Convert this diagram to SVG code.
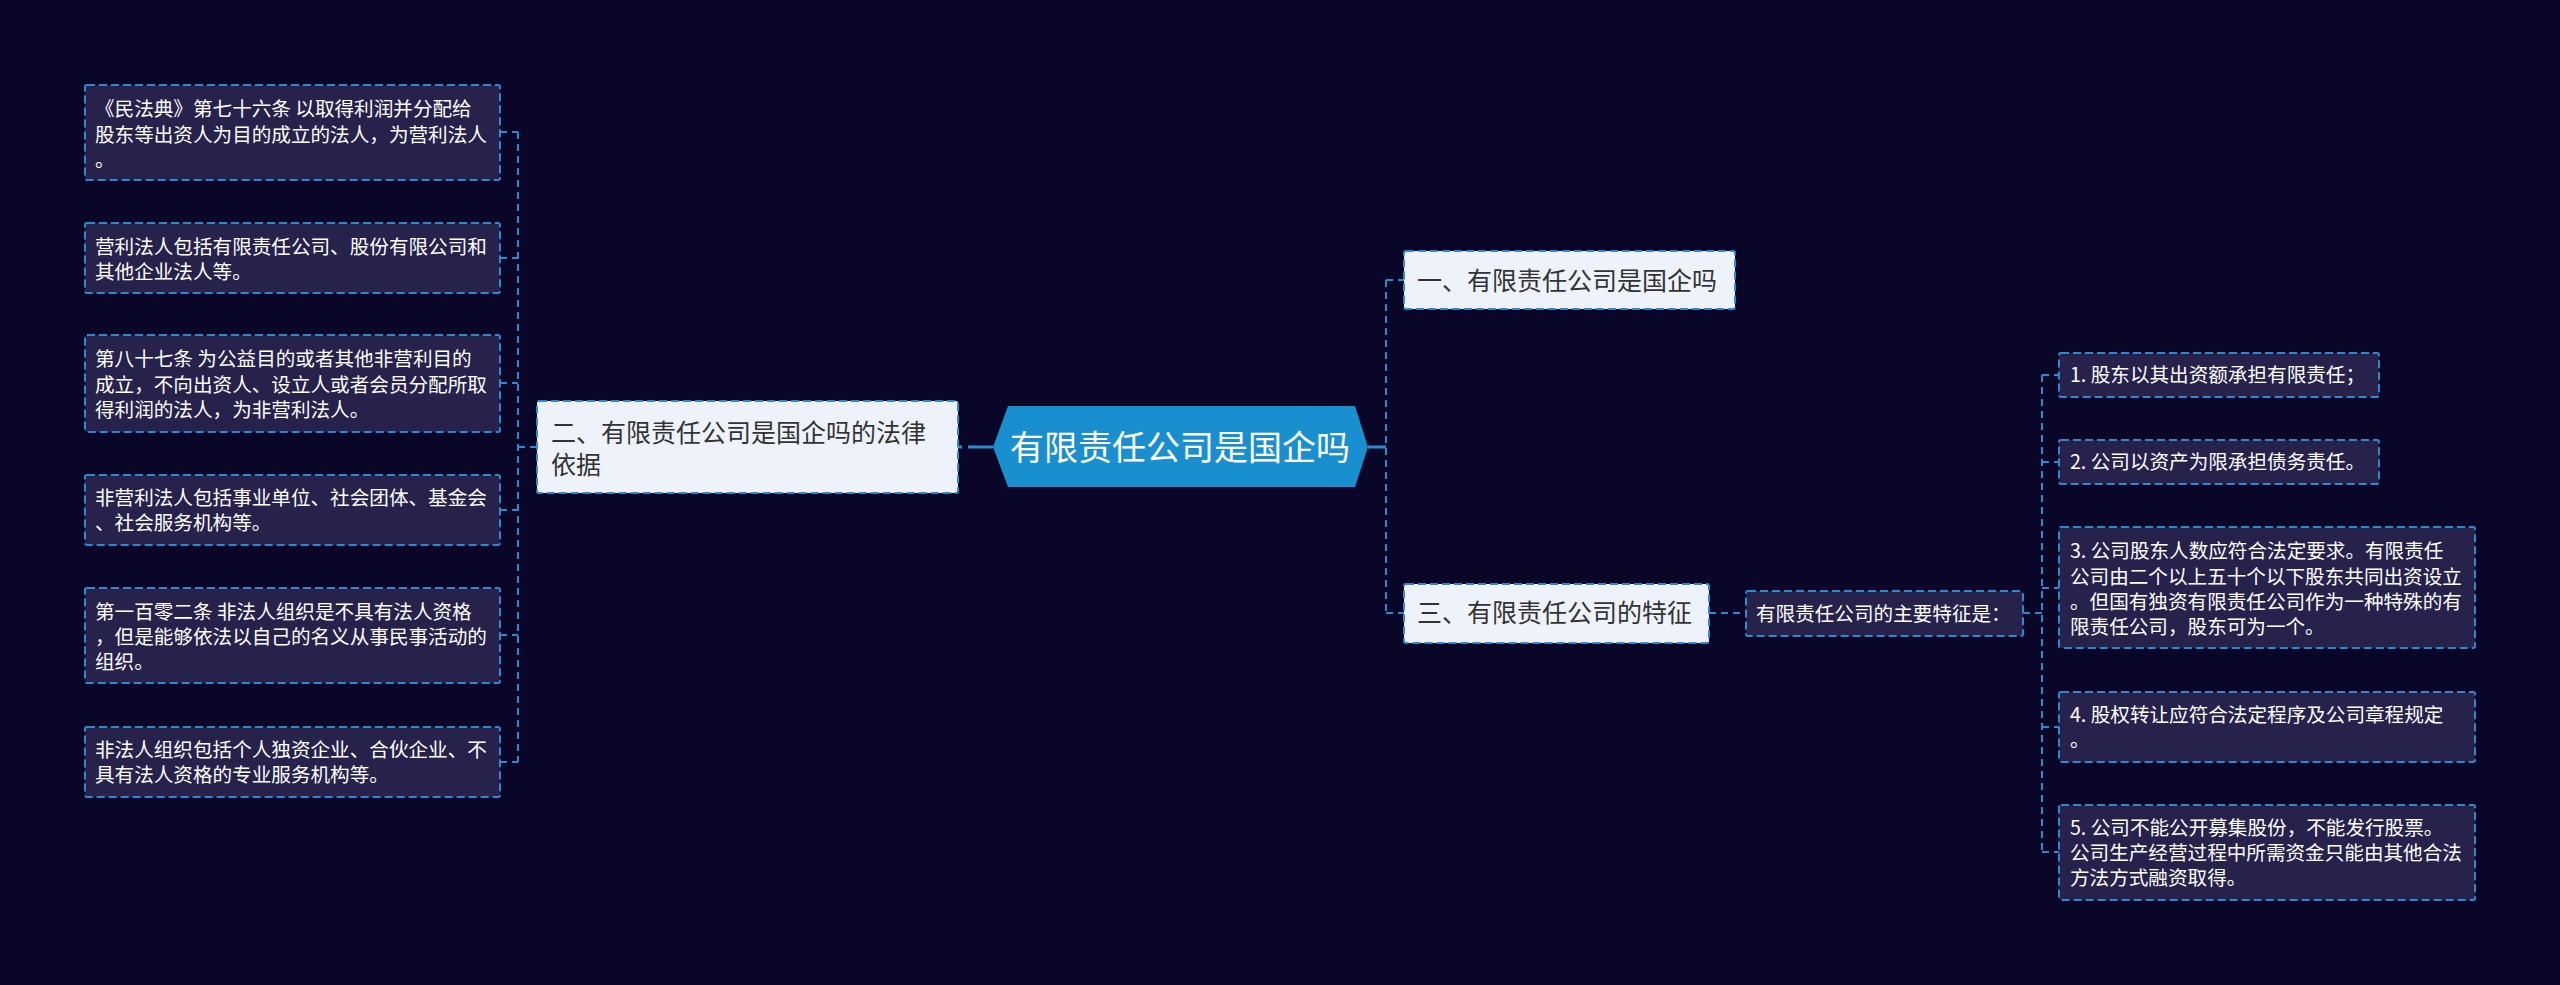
<svg xmlns="http://www.w3.org/2000/svg" width="2560" height="985" viewBox="0 0 2560 985">
<style>
.bg{fill:#0a0628}
.leaf{fill:#26224c;stroke:#2e8ad0;stroke-width:2;stroke-dasharray:8 4}
.main{fill:#eef3fb;stroke:#2e8ad0;stroke-width:2;stroke-dasharray:8 4}
.lt{font-family:"Noto Sans CJK SC","Noto Sans",sans-serif;font-size:19.6px;fill:#ffffff}
.mt{font-family:"Noto Sans CJK SC","Noto Sans",sans-serif;font-size:25px;fill:#333333}
.ct{font-family:"Noto Sans CJK SC","Noto Sans",sans-serif;font-size:34px;fill:#ffffff}
.con{fill:none;stroke:#2e8ad0;stroke-width:2;stroke-dasharray:7 5}
.sol{fill:none;stroke:#2e8ad0;stroke-width:3}
</style>
<rect class="bg" x="0" y="0" width="2560" height="985"/>
<g id="connectors">
  <path class="sol" d="M958 447 H962 M968 447 H993"/>
  <path class="sol" d="M1368 447 H1386"/>
  <path class="con" d="M1386 280 V613"/>
  <path class="con" d="M1386 280 H1404"/>
  <path class="con" d="M1386 613 H1404"/>
  <path class="con" d="M1709 613 H1746"/>
  <path class="con" d="M2023 613 H2042"/>
  <path class="con" d="M2042 375 V852"/>
  <path class="con" d="M2042 375 H2059"/>
  <path class="con" d="M2042 462 H2059"/>
  <path class="con" d="M2042 588 H2059"/>
  <path class="con" d="M2042 727 H2059"/>
  <path class="con" d="M2042 852 H2059"/>
  <path class="con" d="M537 447 H518"/>
  <path class="con" d="M518 132 V762"/>
  <path class="con" d="M500 132 H518"/>
  <path class="con" d="M500 258 H518"/>
  <path class="con" d="M500 383 H518"/>
  <path class="con" d="M500 510 H518"/>
  <path class="con" d="M500 635 H518"/>
  <path class="con" d="M500 762 H518"/>
</g>
<g id="center">
  <polygon points="993,447 1008,406 1355,406 1368,447 1355,487 1008,487" fill="#1a8fd0"/>
  <text class="ct" x="1180" y="460" text-anchor="middle">有限责任公司是国企吗</text>
</g>
<g id="n1">
  <rect class="main" x="1404" y="251" width="331" height="58" rx="2"/>
  <text class="mt" x="1417" y="290">一、有限责任公司是国企吗</text>
</g>
<g id="n2">
  <rect class="main" x="537" y="401" width="421" height="92" rx="2"/>
  <text class="mt" x="551" y="442">二、有限责任公司是国企吗的法律</text>
  <text class="mt" x="551" y="474">依据</text>
</g>
<g id="n3">
  <rect class="main" x="1404" y="584" width="305" height="59" rx="2"/>
  <text class="mt" x="1417" y="622">三、有限责任公司的特征</text>
</g>
<g id="n3a">
  <rect class="leaf" x="1746" y="591" width="277" height="45" rx="2"/>
  <text class="lt" x="1756" y="621">有限责任公司的主要特征是：</text>
</g>
<g id="l1">
  <rect class="leaf" x="85" y="85" width="415" height="95" rx="2"/>
  <text class="lt" x="95" y="116">《民法典》第七十六条 以取得利润并分配给</text>
  <text class="lt" x="95" y="142">股东等出资人为目的成立的法人，为营利法人</text>
  <text class="lt" x="95" y="167">。</text>
</g>
<g id="l2">
  <rect class="leaf" x="85" y="223" width="415" height="70" rx="2"/>
  <text class="lt" x="95" y="254">营利法人包括有限责任公司、股份有限公司和</text>
  <text class="lt" x="95" y="279">其他企业法人等。</text>
</g>
<g id="l3">
  <rect class="leaf" x="85" y="335" width="415" height="97" rx="2"/>
  <text class="lt" x="95" y="366">第八十七条 为公益目的或者其他非营利目的</text>
  <text class="lt" x="95" y="392">成立，不向出资人、设立人或者会员分配所取</text>
  <text class="lt" x="95" y="417">得利润的法人，为非营利法人。</text>
</g>
<g id="l4">
  <rect class="leaf" x="85" y="475" width="415" height="70" rx="2"/>
  <text class="lt" x="95" y="505">非营利法人包括事业单位、社会团体、基金会</text>
  <text class="lt" x="95" y="530">、社会服务机构等。</text>
</g>
<g id="l5">
  <rect class="leaf" x="85" y="588" width="415" height="95" rx="2"/>
  <text class="lt" x="95" y="619">第一百零二条 非法人组织是不具有法人资格</text>
  <text class="lt" x="95" y="644">，但是能够依法以自己的名义从事民事活动的</text>
  <text class="lt" x="95" y="669">组织。</text>
</g>
<g id="l6">
  <rect class="leaf" x="85" y="727" width="415" height="70" rx="2"/>
  <text class="lt" x="95" y="757">非法人组织包括个人独资企业、合伙企业、不</text>
  <text class="lt" x="95" y="782">具有法人资格的专业服务机构等。</text>
</g>
<g id="r1">
  <rect class="leaf" x="2059" y="353" width="320" height="44" rx="2"/>
  <text class="lt" x="2070" y="382">1. 股东以其出资额承担有限责任；</text>
</g>
<g id="r2">
  <rect class="leaf" x="2059" y="440" width="320" height="44" rx="2"/>
  <text class="lt" x="2070" y="469">2. 公司以资产为限承担债务责任。</text>
</g>
<g id="r3">
  <rect class="leaf" x="2059" y="527" width="416" height="121" rx="2"/>
  <text class="lt" x="2070" y="558">3. 公司股东人数应符合法定要求。有限责任</text>
  <text class="lt" x="2070" y="584">公司由二个以上五十个以下股东共同出资设立</text>
  <text class="lt" x="2070" y="609">。但国有独资有限责任公司作为一种特殊的有</text>
  <text class="lt" x="2070" y="634">限责任公司，股东可为一个。</text>
</g>
<g id="r4">
  <rect class="leaf" x="2059" y="692" width="416" height="70" rx="2"/>
  <text class="lt" x="2070" y="722">4. 股权转让应符合法定程序及公司章程规定</text>
  <text class="lt" x="2070" y="747">。</text>
</g>
<g id="r5">
  <rect class="leaf" x="2059" y="805" width="416" height="95" rx="2"/>
  <text class="lt" x="2070" y="835">5. 公司不能公开募集股份，不能发行股票。</text>
  <text class="lt" x="2070" y="860">公司生产经营过程中所需资金只能由其他合法</text>
  <text class="lt" x="2070" y="885">方法方式融资取得。</text>
</g>
</svg>
